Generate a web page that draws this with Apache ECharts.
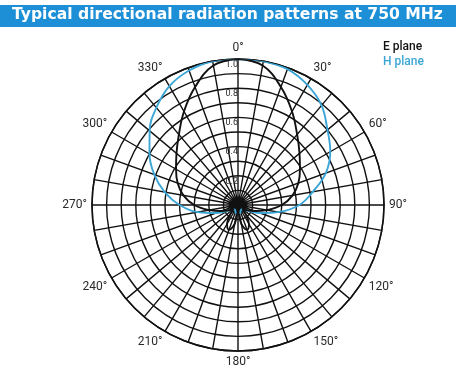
<!DOCTYPE html>
<html>
<head>
<meta charset="utf-8">
<script src="https://cdn.jsdelivr.net/npm/echarts@6/dist/echarts.min.js"></script>
<style>
  html, body { margin: 0; padding: 0; background: #ffffff; }
  #chart { width: 468px; height: 373px; }
</style>
</head>
<body>
<div id="chart"></div>
<script>
// Bearing of each sample, degrees clockwise from 0° (step 10°)
const angles = [0, 10, 20, 30, 40, 50, 60, 70, 80, 90, 100, 110, 120, 130, 140, 150, 160, 170,
                180, 190, 200, 210, 220, 230, 240, 250, 260, 270, 280, 290, 300, 310, 320, 330, 340, 350];

// Relative field strength, E plane
const ePlane = [1.00, 0.97, 0.86, 0.74, 0.63, 0.55, 0.49, 0.44, 0.38, 0.30, 0.20, 0.12, 0.07, 0.04, 0.08, 0.15, 0.18, 0.13,
                0.05, 0.13, 0.18, 0.15, 0.08, 0.04, 0.07, 0.12, 0.20, 0.30, 0.38, 0.44, 0.49, 0.55, 0.63, 0.74, 0.86, 0.97];

// Relative field strength, H plane
const hPlane = [1.00, 1.00, 0.99, 0.95, 0.89, 0.80, 0.73, 0.64, 0.52, 0.42, 0.28, 0.16, 0.08, 0.05, 0.04, 0.04, 0.05, 0.06,
                0.06, 0.06, 0.05, 0.04, 0.04, 0.05, 0.08, 0.16, 0.28, 0.40, 0.51, 0.61, 0.70, 0.79, 0.87, 0.94, 0.98, 1.00];

// Labelled rings on the radius axis
const radiusLabels = [0.2, 0.4, 0.6, 0.8, 1.0];

const titleText = 'Typical directional radiation patterns at 750 MHz';
const seriesNames = ['E plane', 'H plane'];

function closedCurve(values) {
  const pts = angles.map((a, i) => [values[i], a]);
  pts.push([values[0], 360]);
  return pts;
}

const gridColor = '#111111';
const hColor = '#3ba6d6';
const labelFont = 'Roboto, "Liberation Sans", sans-serif';

const chart = echarts.init(document.getElementById('chart'), null, { renderer: 'canvas' });

chart.setOption({
  backgroundColor: '#ffffff',
  animation: false,
  graphic: [
    { type: 'rect', left: 0, top: 5, shape: { width: 456, height: 22 }, style: { fill: '#1c8fd7' }, z: 0 },
    { type: 'text', left: 12, top: 7,
      style: { text: titleText, fill: '#ffffff', font: 'bold 15.6px "DejaVu Sans"' }, z: 1 }
  ],
  legend: {
    orient: 'vertical',
    left: 373,
    top: 36,
    itemGap: 3,
    itemWidth: 0,
    itemHeight: 0,
    icon: 'none',
    textStyle: { fontFamily: labelFont, fontSize: 12, fontWeight: 500, padding: 0 },
    data: [
      { name: seriesNames[0], textStyle: { color: '#111111' } },
      { name: seriesNames[1], textStyle: { color: hColor } }
    ]
  },
  polar: { center: [238, 205], radius: 146 },
  angleAxis: {
    type: 'value',
    min: 0,
    max: 360,
    interval: 10,
    startAngle: 90,
    clockwise: true,
    axisLine: { show: true, lineStyle: { color: gridColor, width: 1.5 } },
    axisTick: { show: false },
    axisLabel: {
      margin: 5,
      color: '#2a2a2a',
      fontFamily: labelFont,
      fontSize: 12,
      formatter: v => (v % 30 === 0 && v < 360) ? v + '°' : ''
    },
    splitLine: { show: true, lineStyle: { color: gridColor, width: 1.4 } }
  },
  radiusAxis: {
    type: 'value',
    min: 0,
    max: 1,
    interval: 0.1,
    axisLine: { show: false },
    axisTick: { show: false },
    axisLabel: {
      margin: 0,
      align: 'right',
      verticalAlign: 'top',
      padding: [1, 0, 0, 0],
      color: '#2a2a2a',
      fontFamily: labelFont,
      fontSize: 9,
      formatter: v => {
        const r = Math.round(v * 10) / 10;
        return radiusLabels.indexOf(r) >= 0 ? r.toFixed(1) : '';
      }
    },
    splitLine: { show: true, lineStyle: { color: gridColor, width: 1.4 } }
  },
  series: [
    {
      name: seriesNames[0], type: 'line', coordinateSystem: 'polar',
      data: closedCurve(ePlane), smooth: 0.4, showSymbol: false, symbol: 'none',
      lineStyle: { color: '#111111', width: 1.9 }, z: 3
    },
    {
      name: seriesNames[1], type: 'line', coordinateSystem: 'polar',
      data: closedCurve(hPlane), smooth: 0.4, showSymbol: false, symbol: 'none',
      lineStyle: { color: hColor, width: 1.9 }, z: 2
    }
  ]
});
</script>
</body>
</html>
